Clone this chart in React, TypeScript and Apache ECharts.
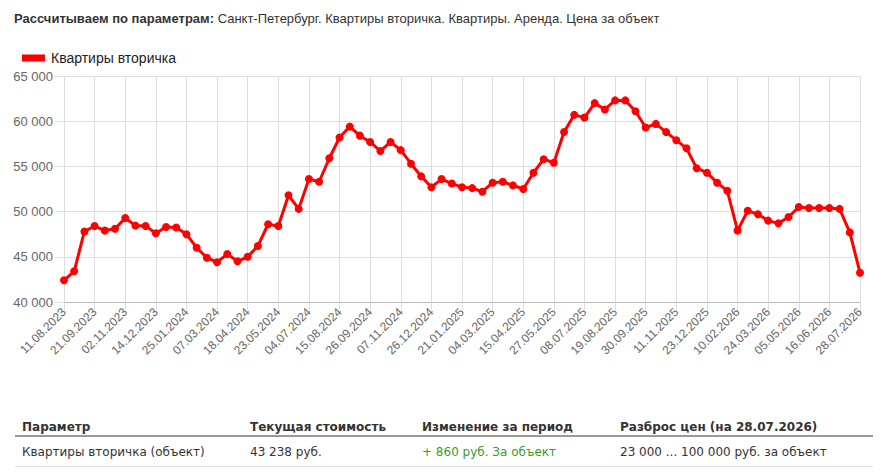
import React, { useEffect, useRef } from "react";
import * as echarts from "echarts";

const seriesName = "Квартиры вторичка";

const dates: string[] = [
  "11.08.2023", "25.08.2023", "08.09.2023",
  "21.09.2023", "05.10.2023", "19.10.2023",
  "02.11.2023", "16.11.2023", "30.11.2023",
  "14.12.2023", "28.12.2023", "11.01.2024",
  "25.01.2024", "08.02.2024", "22.02.2024",
  "07.03.2024", "21.03.2024", "04.04.2024",
  "18.04.2024", "02.05.2024", "16.05.2024",
  "23.05.2024", "06.06.2024", "20.06.2024",
  "04.07.2024", "18.07.2024", "01.08.2024",
  "15.08.2024", "29.08.2024", "12.09.2024",
  "26.09.2024", "10.10.2024", "24.10.2024",
  "07.11.2024", "21.11.2024", "05.12.2024",
  "26.12.2024", "02.01.2025", "11.01.2025",
  "21.01.2025", "04.02.2025", "18.02.2025",
  "04.03.2025", "18.03.2025", "01.04.2025",
  "15.04.2025", "29.04.2025", "13.05.2025",
  "27.05.2025", "10.06.2025", "24.06.2025",
  "08.07.2025", "22.07.2025", "05.08.2025",
  "19.08.2025", "02.09.2025", "16.09.2025",
  "30.09.2025", "14.10.2025", "28.10.2025",
  "11.11.2025", "25.11.2025", "09.12.2025",
  "23.12.2025", "13.01.2026", "27.01.2026",
  "10.02.2026", "24.02.2026", "10.03.2026",
  "24.03.2026", "07.04.2026", "21.04.2026",
  "05.05.2026", "19.05.2026", "02.06.2026",
  "16.06.2026", "30.06.2026", "14.07.2026",
  "28.07.2026",
];

const prices: number[] = [
  42400, 43400, 47800, 48400, 47900, 48100, 49300, 48450, 48400, 47600,
  48300, 48250, 47500, 46000, 44900, 44400, 45300, 44500, 45000, 46200,
  48600, 48400, 51800, 50300, 53600, 53300, 55900, 58200, 59400, 58400,
  57700, 56700, 57700, 56800, 55300, 53900, 52700, 53600, 53100, 52700,
  52600, 52200, 53200, 53300, 52900, 52500, 54300, 55800, 55400, 58800,
  60700, 60400, 62000, 61300, 62300, 62300, 61100, 59300, 59700, 58800,
  57900, 57000, 54800, 54300, 53200, 52300, 47900, 50100, 49700, 49000,
  48700, 49400, 50500, 50400, 50400, 50400, 50300, 47700, 43238,
];

const yMin = 40000;
const yMax = 65000;
const yStep = 5000;

const titleBold = "Рассчитываем по параметрам:";
const titleRest = " Санкт-Петербург. Квартиры вторичка. Квартиры. Аренда. Цена за объект";

const tableHeaders = ["Параметр", "Текущая стоимость", "Изменение за период", "Разброс цен (на 28.07.2026)"];
const tableRow = ["Квартиры вторичка (объект)", "43 238 руб.", "+ 860 руб. За объект", "23 000 ... 100 000 руб. за объект"];
const columnX = [22, 250, 422, 620];

const fmt = (v: number) => String(v).replace(/\B(?=(\d{3})+(?!\d))/g, " ");

export default function App() {
  const ref = useRef<HTMLDivElement>(null);

  useEffect(() => {
    if (!ref.current) return;
    const chart = echarts.init(ref.current, undefined, { renderer: "svg" });
    chart.setOption({
      animation: false,
      textStyle: { fontFamily: "Liberation Sans, Arial, sans-serif" },
      legend: {
        data: [{ name: seriesName, icon: "rect" }],
        left: 22,
        top: 51,
        itemWidth: 23,
        itemHeight: 7,
        itemGap: 10,
        textStyle: { fontSize: 14, color: "#222", padding: [0, 0, 0, 1] },
        padding: 0,
      },
      grid: { left: 64, right: 21, top: 76, bottom: 98, containLabel: false },
      xAxis: {
        type: "category",
        data: dates,
        boundaryGap: false,
        axisLine: { show: true, lineStyle: { color: "#bbb", width: 1 } },
        axisTick: { show: true, interval: 2, length: 8, lineStyle: { color: "#ddd" } },
        splitLine: { show: true, interval: 2, lineStyle: { color: "#ddd", width: 1 } },
        axisLabel: {
          interval: 2,
          rotate: 45,
          fontSize: 12,
          color: "#666",
          margin: 8,
        },
      },
      yAxis: {
        type: "value",
        min: yMin,
        max: yMax,
        interval: yStep,
        axisLine: { show: false },
        axisTick: { show: true, length: 9, lineStyle: { color: "#ddd" } },
        splitLine: { show: true, lineStyle: { color: "#ddd", width: 1 } },
        axisLabel: { fontSize: 13, color: "#666", margin: 11, formatter: (v: number) => fmt(v) },
      },
      series: [
        {
          name: seriesName,
          type: "line",
          data: prices,
          color: "#ff0000",
          lineStyle: { color: "#ff0000", width: 3 },
          itemStyle: { color: "#ff0000" },
          symbol: "circle",
          symbolSize: 8,
          showSymbol: true,
          showAllSymbol: true,
        },
      ],
    });
    return () => chart.dispose();
  }, []);

  const tableFont = "'DejaVu Sans', Verdana, sans-serif";

  return (
    <div style={{ position: "absolute", left: 0, top: 0, width: 881, height: 473, background: "#fff", overflow: "hidden" }}>
      <div
        style={{
          position: "absolute",
          left: 14,
          top: 11,
          fontFamily: "'Liberation Sans', Arial, sans-serif",
          fontSize: 13,
          lineHeight: "16px",
          color: "#333",
          whiteSpace: "nowrap",
        }}
      >
        <b>{titleBold}</b>
        {titleRest}
      </div>
      <div ref={ref} style={{ position: "absolute", left: 0, top: 0, width: 881, height: 400 }} />
      {tableHeaders.map((h, i) => (
        <div
          key={"h" + i}
          style={{
            position: "absolute",
            left: columnX[i],
            top: 419,
            fontFamily: tableFont,
            fontWeight: "bold",
            fontSize: 12,
            lineHeight: "16px",
            color: "#333",
            whiteSpace: "nowrap",
          }}
        >
          {h}
        </div>
      ))}
      <div style={{ position: "absolute", left: 15, top: 435, width: 858, height: 2, background: "#999" }} />
      {tableRow.map((c, i) => (
        <div
          key={"r" + i}
          style={{
            position: "absolute",
            left: columnX[i],
            top: 444,
            fontFamily: tableFont,
            fontSize: 12,
            lineHeight: "16px",
            color: i === 2 ? "#3a9a2a" : "#333",
            whiteSpace: "nowrap",
          }}
        >
          {c}
        </div>
      ))}
      <div style={{ position: "absolute", left: 15, top: 466, width: 858, height: 1, background: "#ddd" }} />
    </div>
  );
}
